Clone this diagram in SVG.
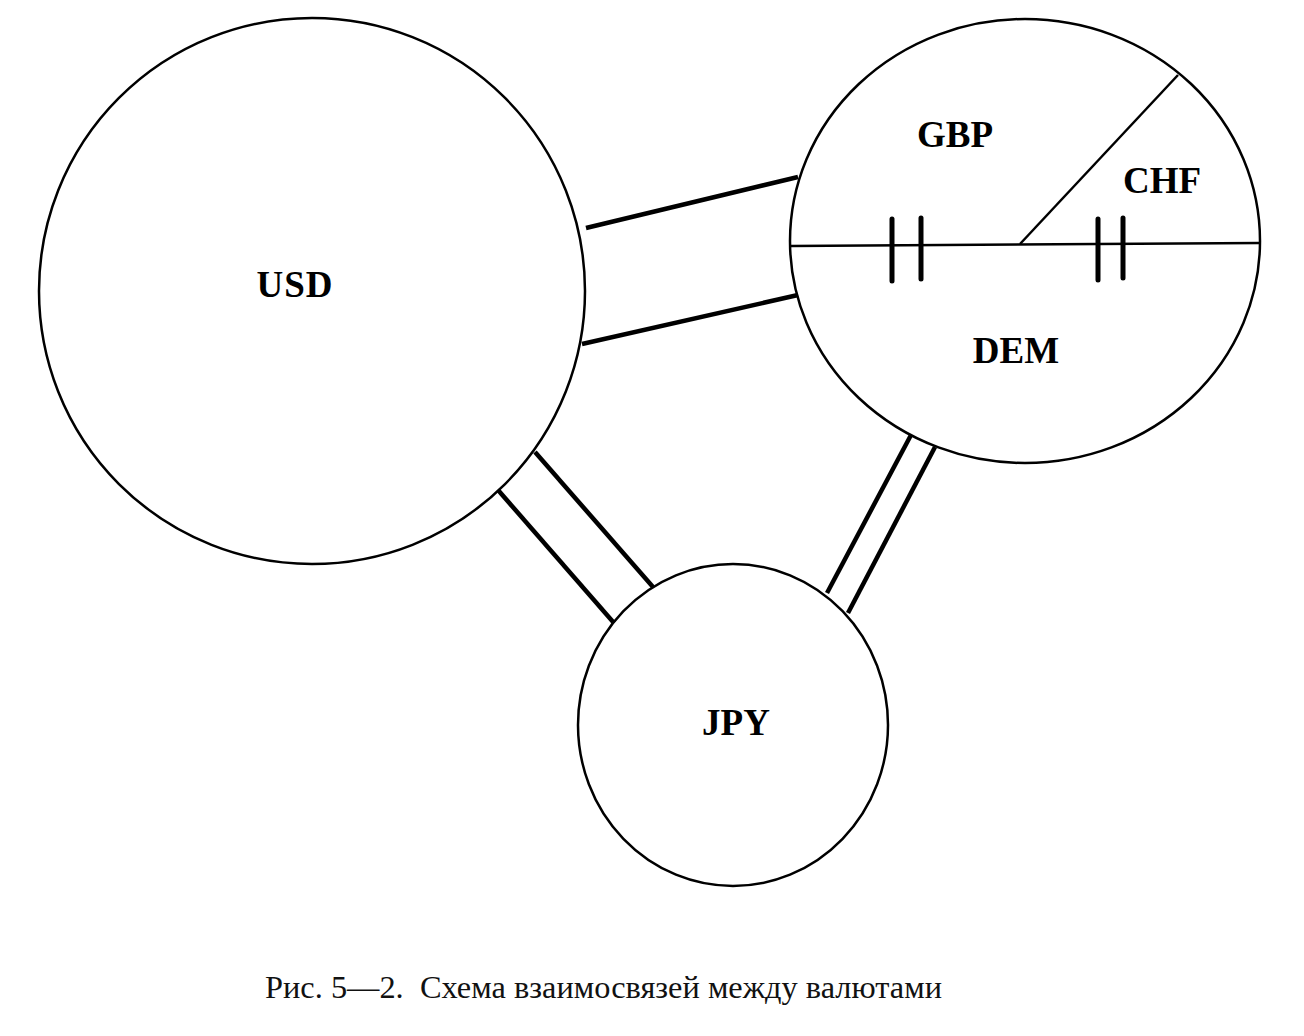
<svg xmlns="http://www.w3.org/2000/svg" width="1304" height="1036" viewBox="0 0 1304 1036">
<style>
.node{fill:none;stroke:#000;stroke-width:2.5}
.div{stroke:#000;stroke-width:2.5;fill:none}
.tick{stroke:#000;stroke-width:5;stroke-linecap:round}
.link{stroke:#000;stroke-width:4.5;fill:none}
.lbl{font-family:"Liberation Serif","Times New Roman",serif;font-weight:bold;font-size:37px;fill:#000;text-anchor:middle}
.cap{font-family:"Liberation Serif","Times New Roman",serif;font-size:31px;fill:#111}
</style>
<rect width="1304" height="1036" fill="#fff"/>
<g id="connectors">
<line class="link" x1="586" y1="228" x2="798" y2="177"/>
<line class="link" x1="582" y1="344" x2="798" y2="295"/>
<line class="link" x1="535" y1="452" x2="653" y2="587"/>
<line class="link" x1="498" y1="490" x2="614" y2="623"/>
<line class="link" x1="911" y1="435" x2="827" y2="593"/>
<line class="link" x1="935" y1="447" x2="848" y2="613"/>
</g>
<g id="usd">
<circle class="node" cx="312" cy="291" r="273"/>
<text class="lbl" x="295" y="297" letter-spacing="1">USD</text>
</g>
<g id="eur-group">
<ellipse class="node" cx="1025" cy="241" rx="235" ry="222"/>
<line class="div" x1="791" y1="246" x2="1260" y2="243"/>
<line class="div" x1="1020" y1="244" x2="1178" y2="75"/>
<line class="tick" x1="892" y1="219" x2="892" y2="281"/>
<line class="tick" x1="921" y1="218" x2="921" y2="279"/>
<line class="tick" x1="1098" y1="219" x2="1098" y2="280"/>
<line class="tick" x1="1123" y1="218" x2="1123" y2="278"/>
<g id="gbp"><text class="lbl" x="955" y="147">GBP</text></g>
<g id="chf"><text class="lbl" x="1162" y="193">CHF</text></g>
<g id="dem"><text class="lbl" x="1016" y="363">DEM</text></g>
</g>
<g id="jpy">
<ellipse class="node" cx="733" cy="725" rx="155" ry="161"/>
<text class="lbl" x="736" y="735">JPY</text>
</g>
<text class="cap" x="265" y="998" textLength="677" lengthAdjust="spacingAndGlyphs">Рис. 5—2.&#160; Схема взаимосвязей между валютами</text>
</svg>
